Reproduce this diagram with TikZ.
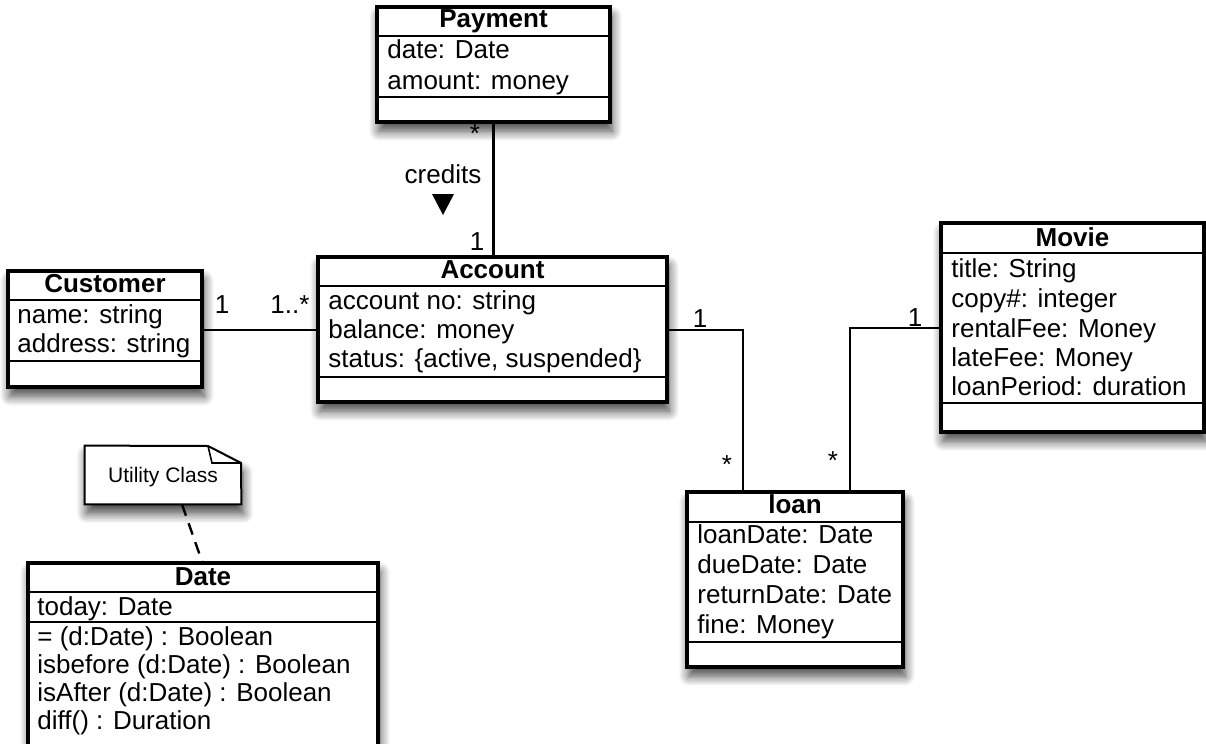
\documentclass[tikz,border=0pt]{standalone}
\usepackage{fontspec}
\setmainfont{Liberation Sans}
\usetikzlibrary{shadows.blur,fit}
\begin{document}
\begin{tikzpicture}[x=0.5pt,y=-0.5pt,
  classbox/.style={draw=black, line width=1.6pt, fill=white, inner sep=0pt,
    blur shadow={shadow xshift=1pt, shadow yshift=-4.5pt, shadow blur radius=5pt, shadow blur steps=10, shadow opacity=75}},
  ctitle/.style={font=\fontsize{13}{15}\selectfont\bfseries, inner sep=0pt, anchor=base},
  attr/.style={font=\fontsize{13}{15}\selectfont, inner sep=0pt, anchor=base west},
  mult/.style={font=\fontsize{13}{15}\selectfont, inner sep=0pt, anchor=base},
  sepline/.style={line width=1.3pt},
  conn/.style={line width=1.2pt},
  notebox/.style={draw=black, line width=1pt, fill=white,
    blur shadow={shadow xshift=1pt, shadow yshift=-4.5pt, shadow blur radius=5pt, shadow blur steps=10, shadow opacity=75}}]
\useasboundingbox (0,0) rectangle (1206,744);

% ---------------- Payment
\node[classbox, fit={(377,7)(610,122)}] (payment) {};
\draw[sepline] (payment.west |- 0,36) -- (payment.east |- 0,36);
\draw[sepline] (payment.west |- 0,97) -- (payment.east |- 0,97);
\node[ctitle] (paymentT) at (493.5,27) {Payment};
\node[attr] (paymentA1) at (387,58) {date: Date};
\node[attr] (paymentA2) at (387,89) {amount: money};

% ---------------- Account
\node[classbox, fit={(318,257)(667,402)}] (account) {};
\draw[sepline] (account.west |- 0,286) -- (account.east |- 0,286);
\draw[sepline] (account.west |- 0,377) -- (account.east |- 0,377);
\node[ctitle] (accountT) at (492.5,278) {Account};
\node[attr] (accountA1) at (328,309) {account no: string};
\node[attr] (accountA2) at (328,338) {balance: money};
\node[attr] (accountA3) at (328,367) {status: \{active, suspended\}};

% ---------------- Customer
\node[classbox, fit={(8,271)(202,387)}] (customer) {};
\draw[sepline] (customer.west |- 0,300) -- (customer.east |- 0,300);
\draw[sepline] (customer.west |- 0,361) -- (customer.east |- 0,361);
\node[ctitle] (customerT) at (105,292) {Customer};
\node[attr] (customerA1) at (17,323) {name: string};
\node[attr] (customerA2) at (17,352) {address: string};

% ---------------- Movie
\node[classbox, fit={(941,223)(1204,432)}] (movie) {};
\draw[sepline] (movie.west |- 0,253) -- (movie.east |- 0,253);
\draw[sepline] (movie.west |- 0,403) -- (movie.east |- 0,403);
\node[ctitle] (movieT) at (1072.5,246) {Movie};
\node[attr] (movieA1) at (951,277) {title: String};
\node[attr] (movieA2) at (951,307) {copy\#: integer};
\node[attr] (movieA3) at (951,337) {rentalFee: Money};
\node[attr] (movieA4) at (951,366) {lateFee: Money};
\node[attr] (movieA5) at (951,395) {loanPeriod: duration};

% ---------------- loan
\node[classbox, fit={(687,492)(903,667)}] (loan) {};
\draw[sepline] (loan.west |- 0,522) -- (loan.east |- 0,522);
\draw[sepline] (loan.west |- 0,642) -- (loan.east |- 0,642);
\node[ctitle] (loanT) at (795,513) {loan};
\node[attr] (loanA1) at (697,543) {loanDate: Date};
\node[attr] (loanA2) at (697,573) {dueDate: Date};
\node[attr] (loanA3) at (697,603) {returnDate: Date};
\node[attr] (loanA4) at (697,633) {fine: Money};

% ---------------- Date
\node[classbox, fit={(28,563)(378,760)}] (date) {};
\draw[sepline] (date.west |- 0,592) -- (date.east |- 0,592);
\draw[sepline] (date.west |- 0,622) -- (date.east |- 0,622);
\node[ctitle] (dateT) at (203,585) {Date};
\node[attr] (dateA1) at (37,615) {today: Date};
\node[attr] (dateO1) at (37,645) {= (d:Date) : Boolean};
\node[attr] (dateO2) at (37,673) {isbefore (d:Date) : Boolean};
\node[attr] (dateO3) at (37,701) {isAfter (d:Date) : Boolean};
\node[attr] (dateO4) at (37,729) {diff() : Duration};

% ---------------- Note
\node[inner sep=0pt, fit={(85,446)(241,504)}] (note) {};
\draw[notebox] (note.north west) -- (208,446) -- (241,463) -- (note.south east) -- (note.south west) -- cycle;
\draw[line width=0.8pt] (208,446) -- (212,463) -- (241,463);
\node[font=\fontsize{10.5}{12}\selectfont, inner sep=0pt] (noteT) at (163,477) {Utility Class};
\draw[conn, dashed, dash pattern=on 6pt off 4pt] (note.south -| 182,0) -- (date.north -| 202,0);

% ---------------- Connectors
\draw[conn] (payment.south) -- (payment.south |- account.north);
\draw[conn] (customer.east |- 0,330) -- (account.west |- 0,330);
\draw[conn] (account.east |- 0,330) -| (loan.north -| 743,0);
\draw[conn] (movie.west |- 0,328) -| (loan.north -| 850,0);

% ---------------- Labels
\node[mult] (m1) at (475,142) {*};
\node[mult] (credits) at (443,183) {credits};
\fill (432,194) -- (454,194) -- (443,215) -- cycle;
\node[mult] (m2) at (477,250) {1};
\node[mult] (m3) at (222,313) {1};
\node[mult] (m4) at (290,313) {1..*};
\node[mult] (m5) at (700,327) {1};
\node[mult] (m6) at (727,473) {*};
\node[mult] (m7) at (915,326) {1};
\node[mult] (m8) at (833,469) {*};
\end{tikzpicture}
\end{document}
